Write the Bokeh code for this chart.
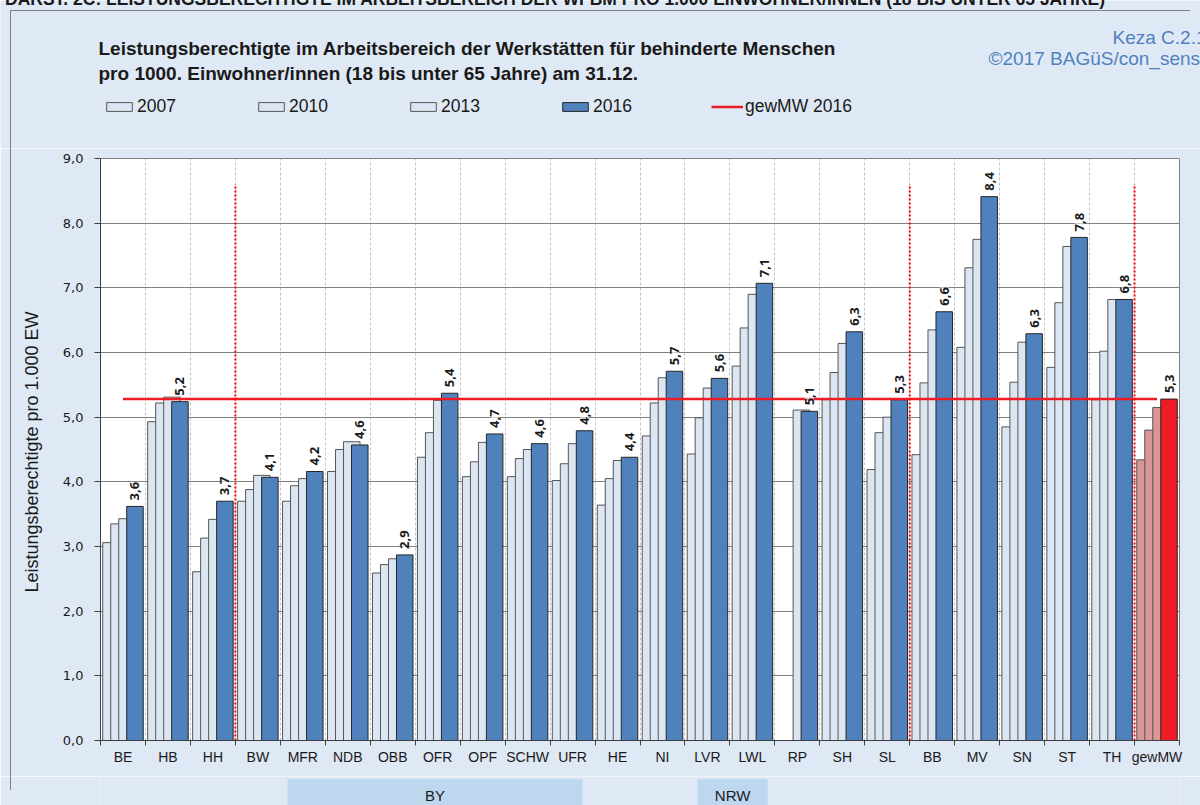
import math
from bokeh.plotting import figure
from bokeh.models import (ColumnDataSource, Range1d, FixedTicker, Legend, LegendItem,
                          Label, Div)
from bokeh.transform import dodge
from bokeh.layouts import column
from bokeh.core.properties import value
from bokeh.embed import file_html
from bokeh.resources import INLINE

nan = float("nan")

# ---------------- data ----------------
categories = ["BE", "HB", "HH", "BW", "MFR", "NDB", "OBB", "OFR", "OPF", "SCHW", "UFR", "HE",
              "NI", "LVR", "LWL", "RP", "SH", "SL", "BB", "MV", "SN", "ST", "TH", "gewMW"]
years = ["2007", "2010", "2013", "2016"]
v2007 = [3.06, 4.93, 2.61, 3.70, 3.70, 4.16, 2.59, 4.38, 4.08, 4.08, 4.02, 3.64,
         4.71, 4.43, 5.79, nan, 5.27, 4.19, 4.42, 6.08, 4.85, 5.77, 5.27, 4.34]
v2010 = [3.35, 5.22, 3.13, 3.88, 3.94, 4.50, 2.72, 4.76, 4.31, 4.36, 4.28, 4.05,
         5.22, 4.99, 6.38, nan, 5.69, 4.76, 5.53, 7.31, 5.54, 6.77, 6.02, 4.80]
v2013 = [3.43, 5.31, 3.42, 4.10, 4.05, 4.62, 2.81, 5.26, 4.61, 4.50, 4.59, 4.33,
         5.61, 5.45, 6.90, 5.11, 6.14, 5.00, 6.35, 7.75, 6.16, 7.64, 6.82, 5.15]
v2016 = [3.62, 5.24, 3.70, 4.07, 4.16, 4.57, 2.87, 5.37, 4.74, 4.59, 4.79, 4.38,
         5.71, 5.60, 7.07, 5.09, 6.32, 5.27, 6.63, 8.41, 6.29, 7.78, 6.82, 5.28]
mean_2016 = 5.28
mean_label = "gewMW 2016"
separators = [3, 18, 23]
separator_top = 8.6
y_ticks = list(range(10))

group_labels = ["BY", "NRW"]
group_x0 = [4.16, 13.28]
group_x1 = [10.72, 14.84]

header_text = ("DARST. 2C: LEISTUNGSBERECHTIGTE IM ARBEITSBEREICH DER WFBM PRO 1.000 "
               "EINWOHNER/INNEN (18 BIS UNTER 65 JAHRE)")
title_lines = ["Leistungsberechtigte im Arbeitsbereich der Werkstätten für behinderte Menschen",
               "pro 1000. Einwohner/innen (18 bis unter 65 Jahre) am 31.12."]
source_lines = ["Keza C.2.1", "©2017 BAGüS/con_sens"]
y_label = "Leistungsberechtigte  pro 1.000 EW"

# ---------------- styles ----------------
FONT = "Liberation Sans"
OUTER_BG = "#dfe9f5"
LIGHT = "#dce6f2"
DARK = "#4f81bd"
PINK = "#d99694"
RED = "#ee1c24"
TXT = "#1a1a1a"
BAR_W = 0.367
OFFS = [-0.267, -0.089, 0.089, 0.267]
W = 1200
ML, MR = 100, 21

n = len(categories)
xc = [i + 0.5 for i in range(n)]
is_mean = [c == "gewMW" for c in categories]
src = ColumnDataSource(dict(
    xc=xc, cat=categories,
    v2007=v2007, v2010=v2010, v2013=v2013, v2016=v2016,
    light_fill=[PINK if m else LIGHT for m in is_mean],
    dark_fill=[RED if m else DARK for m in is_mean],
    lbl=[("%.1f" % v).replace(".", ",") for v in v2016],
))

# ---------------- header panel (titles + legend) ----------------
ph = figure(width=W, height=148, output_backend="svg", toolbar_location=None, title=None,
            x_range=Range1d(0, 1), y_range=Range1d(0, 1),
            x_axis_location=None, y_axis_location=None,
            min_border_left=0, min_border_right=0, min_border_top=0, min_border_bottom=0,
            background_fill_color=OUTER_BG, border_fill_color=OUTER_BG, outline_line_color=None)
ph.grid.visible = False
if hasattr(ph, "frame_align"):
    ph.frame_align = False

# legend-only renderers (kept outside the visible range of the header panel)
leg_renderers = []
for yr in years:
    dark = yr == "2016"
    leg_renderers.append(ph.vbar(x=[-10], top=[0], width=0.1,
                                 fill_color=DARK if dark else LIGHT,
                                 line_color="#262626" if dark else "#555555"))
leg_renderers.append(ph.line(x=[-10, -9], y=[0, 0], line_color=RED, line_width=2.5))
items = [LegendItem(label=lab, renderers=[r]) for lab, r in zip(years + [mean_label], leg_renderers)]
leg = Legend(items=items, orientation="horizontal", location=(103, 31),
             glyph_width=32, glyph_height=11, label_standoff=2, label_width=118, spacing=0,
             padding=0, margin=0, background_fill_alpha=0, border_line_color=None,
             label_text_font=FONT, label_text_font_size="17.5px", label_text_color=TXT)
ph.add_layout(leg, "center")

for txt, yy in zip(title_lines, [100, 75]):
    ph.add_layout(Label(x=98, y=yy, x_units="screen", y_units="screen", text=txt,
                        text_baseline="middle", text_font=FONT, text_font_style="bold",
                        text_font_size="19px", text_color=TXT))
for txt, xx, yy in zip(source_lines, [1112, 988], [111, 90]):
    ph.add_layout(Label(x=xx, y=yy, x_units="screen", y_units="screen", text=txt,
                        text_baseline="middle", text_font=FONT, text_font_size="19px",
                        text_color="#4f81bd"))

# ---------------- main chart ----------------
p = figure(width=W, height=628, output_backend="svg", toolbar_location=None, title=None,
           x_range=Range1d(0, n), y_range=Range1d(0, 9),
           min_border_left=ML, min_border_right=MR, min_border_top=10, min_border_bottom=36,
           background_fill_color="white", border_fill_color=OUTER_BG,
           outline_line_color="#808080")

p.ygrid.ticker = FixedTicker(ticks=y_ticks)
p.ygrid.grid_line_color = "#808080"
p.ygrid.grid_line_width = 1
p.xgrid.ticker = FixedTicker(ticks=list(range(1, n)))
p.xgrid.grid_line_color = "#c4c4c4"
p.xgrid.grid_line_dash = "3 2"

xa = p.xaxis[0]
xa.ticker = FixedTicker(ticks=xc, minor_ticks=list(range(n + 1)))
xa.major_label_overrides = {x: c for x, c in zip(xc, categories)}
xa.major_tick_line_color = None
xa.major_tick_out = 0
xa.minor_tick_in = 0
xa.minor_tick_out = 5
xa.minor_tick_line_color = "#404040"
xa.axis_line_color = "#404040"
xa.major_label_standoff = 3
xa.major_label_text_font = FONT
xa.major_label_text_font_size = "14px"
xa.major_label_text_color = TXT

ya = p.yaxis[0]
ya.ticker = FixedTicker(ticks=y_ticks)
ya.major_label_overrides = {t: "%d,0" % t for t in y_ticks}
ya.minor_tick_line_color = None
ya.major_tick_in = 0
ya.major_tick_out = 6
ya.major_tick_line_color = "#404040"
ya.axis_line_color = "#404040"
ya.major_label_standoff = 11
ya.major_label_text_font = "DejaVu Sans"
ya.major_label_text_font_size = "13px"
ya.major_label_text_color = TXT
ya.axis_label = y_label
ya.axis_label_text_font = FONT
ya.axis_label_text_font_style = "normal"
ya.axis_label_text_font_size = "18px"
ya.axis_label_text_color = TXT
ya.axis_label_standoff = 18

for k, yr in enumerate(years):
    dark = yr == "2016"
    p.vbar(x=dodge("xc", OFFS[k], range=p.x_range), top="v" + yr, width=BAR_W, bottom=0,
           source=src, fill_color="dark_fill" if dark else "light_fill",
           line_color="#262626" if dark else "#555555", line_width=1)

p.line(x=[xc[0], xc[-1]], y=[mean_2016, mean_2016], line_color=RED, line_width=2.5)

p.segment(x0=separators, x1=separators, y0=[0] * len(separators),
          y1=[separator_top] * len(separators),
          line_color="#ff0000", line_width=2, line_dash="2 2")

p.text(x=dodge("xc", OFFS[3], range=p.x_range), y="v2016", text="lbl", source=src,
       angle=math.pi / 2, text_align="left", text_baseline="middle", y_offset=-6,
       text_font=value("Open Sans"), text_font_style="bold", text_font_size="13px",
       text_color=TXT, background_fill_color="white", background_fill_alpha=0.6)

# ---------------- bottom panel (group boxes) ----------------
pb = figure(width=W, height=29, output_backend="svg", toolbar_location=None, title=None,
            x_range=p.x_range, y_range=Range1d(0, 1),
            x_axis_location=None, y_axis_location=None,
            min_border_left=ML, min_border_right=MR, min_border_top=0, min_border_bottom=0,
            background_fill_color=OUTER_BG, border_fill_color=OUTER_BG, outline_line_color=None)
pb.grid.visible = False
gsrc = ColumnDataSource(dict(x0=group_x0, x1=group_x1, lab=group_labels,
                             xm=[(a + b) / 2 for a, b in zip(group_x0, group_x1)]))
pb.quad(left="x0", right="x1", bottom=-1, top=0.91, source=gsrc,
        fill_color="#bdd7ee", line_color=None)
pb.text(x="xm", y=0.33, text="lab", source=gsrc, text_align="center", text_baseline="middle",
        text_font=value(FONT), text_font_size="15px", text_color=TXT)

# ---------------- overlays ----------------
header = Div(text=header_text, margin=0,
             styles={"position": "absolute", "top": "-13px", "left": "5px",
                     "white-space": "nowrap", "font-family": FONT,
                     "font-weight": "bold", "font-size": "17.5px",
                     "color": TXT, "z-index": "10"})
frame_line = Div(text="", width=1180, height=780, margin=0,
                 styles={"position": "absolute", "top": "10px", "left": "10px",
                         "border-left": "1px solid #7f7f7f", "border-top": "1px solid #7f7f7f",
                         "pointer-events": "none", "z-index": "9"})

layout = column(header, frame_line, ph, p, pb, spacing=0)
open("out.html", "w").write(file_html(layout, INLINE))
